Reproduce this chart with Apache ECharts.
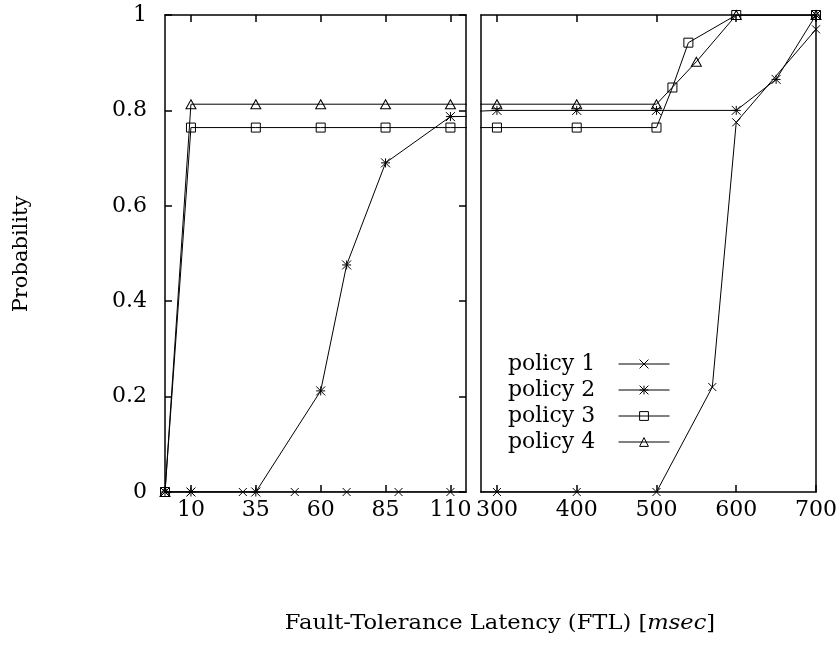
<!DOCTYPE html>
<html>
<head>
<meta charset="utf-8">
<script src="https://cdn.jsdelivr.net/npm/echarts@6/dist/echarts.min.js"></script>
<style>
  html, body { margin: 0; padding: 0; background: #fff; }
  #main { width: 840px; height: 646px; }
</style>
</head>
<body>
<div id="main"></div>
<script>
// data (same data is drawn in both panels, each clipped to its range)
var policyNames = ['policy 1', 'policy 2', 'policy 3', 'policy 4'];

var p1X = [0, 10, 30, 50, 70, 90, 110, 300, 400, 500, 570, 600, 700];
var p1Y = [0, 0, 0, 0, 0, 0, 0, 0, 0, 0, 0.22, 0.775, 0.97];

var p2X = [0, 10, 35, 60, 70, 85, 110, 300, 400, 500, 600, 650, 700];
var p2Y = [0, 0, 0, 0.212, 0.476, 0.69, 0.787, 0.80, 0.80, 0.80, 0.80, 0.865, 1.0];

var p3X = [0, 10, 35, 60, 85, 110, 300, 400, 500, 520, 540, 600, 700];
var p3Y = [0, 0.764, 0.764, 0.764, 0.764, 0.764, 0.764, 0.764, 0.764, 0.848, 0.942, 1.0, 1.0];

var p4X = [0, 10, 35, 60, 85, 110, 300, 400, 500, 550, 600, 700];
var p4Y = [0, 0.813, 0.813, 0.813, 0.813, 0.813, 0.813, 0.813, 0.813, 0.902, 1.0, 1.0];

var leftTicks = [10, 35, 60, 85, 110];
var rightTicks = [300, 400, 500, 600, 700];

var FONT = 'DejaVu Serif';

var symbols = [
    'path://M0,0L10,10M10,0L0,10',
    'path://M0,0L10,10M10,0L0,10M5,0L5,10M0,5L10,5',
    'rect',
    'triangle'
];
var symbolSizes = [8, 9, 9, [10, 9]];

function pairs(xs, ys) {
    return xs.map(function (x, i) { return [x, ys[i]]; });
}
var allData = [pairs(p1X, p1Y), pairs(p2X, p2Y), pairs(p3X, p3Y), pairs(p4X, p4Y)];

var frame = { show: true, onZero: false, lineStyle: { color: '#000', width: 1.5 } };

function xAx(grid, pos, min, max, ticks, labels) {
    return {
        type: 'value', gridIndex: grid, position: pos, min: min, max: max,
        axisLine: frame,
        axisTick: { show: true, inside: true, length: 7, customValues: ticks, lineStyle: { color: '#000', width: 1.5 } },
        axisLabel: labels ? { show: true, customValues: ticks, margin: 7, color: '#000', fontFamily: FONT, fontSize: 22 } : { show: false },
        splitLine: { show: false }
    };
}

function yAx(grid, pos, ticks, labels) {
    return {
        type: 'value', gridIndex: grid, position: pos, min: 0, max: 1, interval: 0.2,
        axisLine: frame,
        axisTick: { show: ticks, inside: true, length: 7, lineStyle: { color: '#000', width: 1.5 } },
        axisLabel: labels ? { show: true, margin: 18, color: '#000', fontFamily: FONT, fontSize: 22 } : { show: false },
        splitLine: { show: false }
    };
}

var series = [];
[0, 1].forEach(function (g) {
    allData.forEach(function (d, i) {
        series.push({
            name: policyNames[i],
            type: 'line',
            xAxisIndex: g === 0 ? 0 : 2,
            yAxisIndex: g === 0 ? 0 : 2,
            data: d,
            symbol: symbols[i],
            symbolSize: symbolSizes[i],
            showAllSymbol: true,
            clip: true,
            lineStyle: { color: '#000', width: 1 },
            itemStyle: { color: 'transparent', borderColor: '#000', borderWidth: 1 },
            emphasis: { disabled: true },
            z: 3
        });
    });
});

var myChart = echarts.init(document.getElementById('main'));

var option = {
    animation: false,
    backgroundColor: '#fff',
    grid: [
        { left: 165, top: 15, width: 301, height: 477 },
        { left: 481, top: 15, width: 336, height: 477 }
    ],
    xAxis: [
        xAx(0, 'bottom', 0, 116, leftTicks, true),
        xAx(0, 'top', 0, 116, leftTicks, false),
        xAx(1, 'bottom', 280, 700, rightTicks, true),
        xAx(1, 'top', 280, 700, rightTicks, false)
    ],
    yAxis: [
        yAx(0, 'left', true, true),
        yAx(0, 'right', true, false),
        yAx(1, 'left', false, false),
        yAx(1, 'right', false, false)
    ],
    legend: {
        data: policyNames,
        orient: 'vertical',
        align: 'right',
        left: 503,
        top: 346,
        itemWidth: 51,
        itemHeight: 11,
        itemGap: 0,
        lineStyle: { width: 1, color: '#000' },
        itemStyle: { color: 'transparent', borderColor: '#000', borderWidth: 1 },
        formatter: function (name) { return name + '\u00a0\u00a0\u2009'; },
        textStyle: { color: '#000', fontFamily: FONT, fontSize: 22, lineHeight: 26 }
    },
    graphic: [
        {
            type: 'text', x: 22, y: 254, rotation: Math.PI / 2,
            style: { text: 'Probability', fill: '#000', font: '21px "DejaVu Serif"', align: 'center', verticalAlign: 'middle' }
        },
        {
            type: 'text', x: 500, y: 624, scaleX: 1.13,
            style: {
                text: '{n|Fault-Tolerance Latency (FTL) [}{i|msec}{n|]}',
                align: 'center', verticalAlign: 'middle',
                rich: {
                    n: { fontFamily: FONT, fontSize: 20, fill: '#000' },
                    i: { fontFamily: FONT, fontSize: 20, fontStyle: 'italic', fill: '#000' }
                }
            }
        }
    ],
    series: series
};

myChart.setOption(option);
</script>
</body>
</html>
